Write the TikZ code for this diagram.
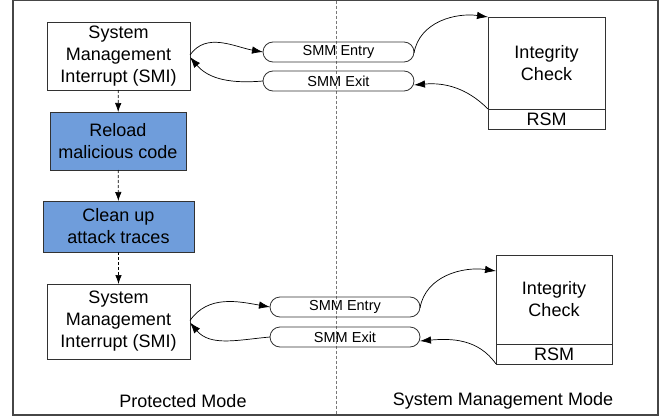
\documentclass[tikz,border=0pt]{standalone}
\usepackage{fontspec}
\setmainfont{Liberation Sans}
\usepackage{tikz}
\usetikzlibrary{
  arrows.meta,
  positioning
}
\definecolor{framecolor}{RGB}{70, 70, 70}
\definecolor{boxline}{RGB}{50, 50, 50}
\definecolor{attackfill}{RGB}{111, 157, 219}
\definecolor{dividercolor}{RGB}{120, 120, 120}
\tikzset{
boxtext/.style={
  align=center,
  font=\fontsize{18}{22}\selectfont,
  inner sep=0pt,
  outer sep=0pt
},
smibox/.style={
  draw=boxline,
  line width=0.8pt,
  fill=white,
  minimum width=143pt,
  boxtext
},
attackbox/.style={
  draw=boxline,
  line width=0.8pt,
  fill=attackfill,
  boxtext
},
pill/.style={
  draw=boxline,
  line width=0.8pt,
  rounded corners=10pt,
  minimum height=20pt,
  inner sep=0pt,
  outer sep=0pt,
  font=\fontsize{14.5}{16}\selectfont
},
checkbox/.style={
  draw=boxline,
  line width=0.8pt,
  minimum width=117pt,
  boxtext
},
modelabel/.style={
  font=\fontsize{18}{22}\selectfont
},
arrow/.style={
  -{Latex[length=11pt,width=7.5pt]},
  line width=0.7pt
},
dashedarrow/.style={
  -{Latex[length=9pt,width=6.5pt]},
  line width=0.7pt,
  densely dashed
}
}
\begin{document}
\begin{tikzpicture}[x=1pt, y=1pt]
  \useasboundingbox (0,0) rectangle (663,-417);
  % Frame and divider
  \draw[framecolor, line width=1.2pt] (13,-0.6) rectangle (658,-415);
  \draw[dividercolor, densely dashed, line width=0.7pt] (336,-0.6) -- (336,-415);
  % Protected mode side
  \node[smibox, minimum height=68pt] (smi1) at (118.5,-56) {System\\Management\\Interrupt (SMI)};
  \node[attackbox, minimum width=136pt, minimum height=58pt] (reload) at (118,-141) {Reload\\malicious code};
  \node[attackbox, minimum width=151pt, minimum height=51pt] (cleanup) at (118.5,-226.5) {Clean up\\attack traces};
  \node[smibox, minimum height=75pt] (smi2) at (118.5,-321.5) {System\\Management\\Interrupt (SMI)};
  \draw[dashedarrow] (smi1) -- (reload);
  \draw[dashedarrow] (reload) -- (cleanup);
  \draw[dashedarrow] (cleanup) -- (smi2);
  % SMM transitions
  \node[pill, minimum width=151pt] (entry1) at (338.5,-52) {SMM Entry};
  \node[pill, minimum width=151pt] (exit1) at (338.5,-81) {SMM Exit};
  \node[pill, minimum width=150pt] (entry2) at (345,-307) {SMM Entry};
  \node[pill, minimum width=150pt] (exit2) at (345,-337) {SMM Exit};
  % System management mode side
  \node[checkbox, minimum height=92pt] (check1) at (546.5,-63) {Integrity\\Check};
  \node[checkbox, minimum height=20pt, below=0pt of check1] (rsm1) {RSM};
  \node[checkbox, minimum width=116pt, minimum height=89pt] (check2) at (554,-299.5) {Integrity\\Check};
  \node[checkbox, minimum width=116pt, minimum height=20pt, below=0pt of check2] (rsm2) {RSM};
  % Arrows, first round
  \draw[arrow] ([yshift=1pt]smi1.east) to[out=55, in=170] (entry1.west);
  \draw[arrow] (exit1.west) to[out=185, in=-50] ([yshift=-1pt]smi1.east);
  \draw[arrow] ([yshift=-1pt]entry1.east) to[out=80, in=172] (check1.north west);
  \draw[arrow] (rsm1.north west) to[out=135, in=5] ([yshift=-4pt]exit1.east);
  % Arrows, second round
  \draw[arrow] ([yshift=1pt]smi2.east) to[out=55, in=170] (entry2.west);
  \draw[arrow] (exit2.west) to[out=185, in=-50] ([yshift=-1pt]smi2.east);
  \draw[arrow] ([yshift=-1pt]entry2.east) to[out=80, in=172] ([yshift=-16pt]check2.north west);
  \draw[arrow] (rsm2.south west) to[out=125, in=5] ([yshift=-4pt]exit2.east);
  % Labels
  \node[modelabel] (pmlabel) at (183,-401) {Protected Mode};
  \node[modelabel] (smmlabel) at (503,-401) {System Management Mode};
\end{tikzpicture}
\end{document}
